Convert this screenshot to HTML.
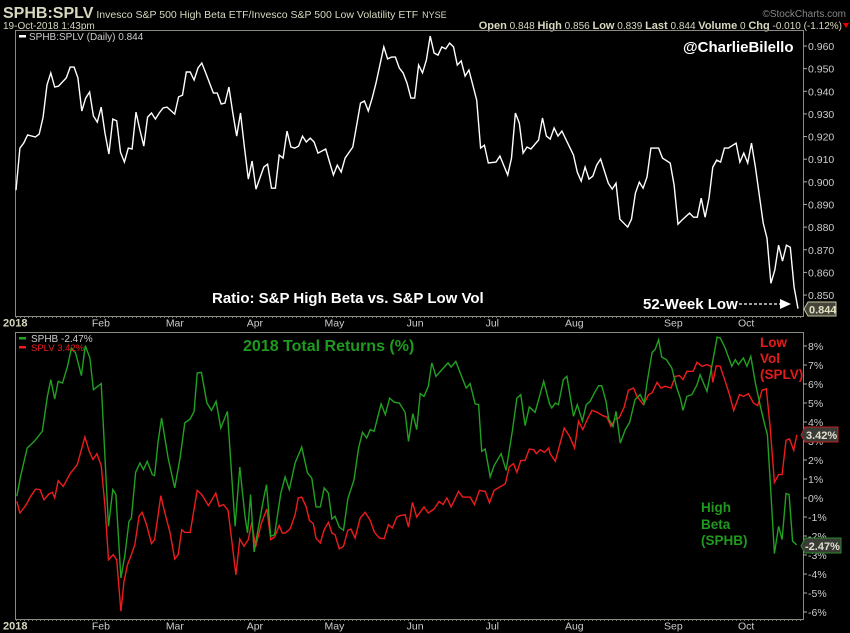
<!DOCTYPE html>
<html><head><meta charset="utf-8"><style>
html,body{margin:0;padding:0;background:#000;}
svg{display:block;font-family:"Liberation Sans",sans-serif;}
</style></head><body>
<svg id="chart" width="850" height="633" viewBox="0 0 850 633" xmlns="http://www.w3.org/2000/svg">
<rect x="0" y="0" width="850" height="633" fill="#000"/>
<g>
<text x="3" y="18" font-size="16" font-weight="bold" fill="#d8d8c0">SPHB:SPLV<tspan font-size="10.5" font-weight="normal" dx="3">Invesco S&amp;P 500 High Beta ETF/Invesco S&amp;P 500 Low Volatility ETF</tspan><tspan font-size="9" font-weight="normal" dx="4">NYSE</tspan></text>
<text x="3" y="29" font-size="10" fill="#d8d8c0">19-Oct-2018 1:43pm</text>
<text x="846" y="17" font-size="10" fill="#888" text-anchor="end">©StockCharts.com</text>
<text x="842" y="29" font-size="10" fill="#d8d8c0" text-anchor="end"><tspan font-weight="bold" font-size="11">Open</tspan> 0.848 <tspan font-weight="bold" font-size="11">High</tspan> 0.856 <tspan font-weight="bold" font-size="11">Low</tspan> 0.839 <tspan font-weight="bold" font-size="11">Last</tspan> 0.844 <tspan font-weight="bold" font-size="11">Volume</tspan> 0 <tspan font-weight="bold" font-size="11">Chg</tspan> -0.010 (-1.12%)</text>
<polygon points="843,23 849,23 846,28" fill="#e00"/>
</g>
<g id="topPanel"></g>
<g id="botPanel"></g>
<g id="monthAxis"></g>
</svg>
<script>
// ---- data ----
const ratioDays=[0,1,2,3,5,6,7,8,9,10,11,13,14,15,16,17,18,19,20,21,22,23,24,25,26,27,28,29,30,31,32,33,34,35,36,37,38,39,41,42,43,44,45,46,47,48,49,51,52,53,54,55,56,57,58,59,60,61,62,63,64,65,66,67,68,69,70,71,72,73,74,75,76,77,78,80,82,83,84,85,87,88,89,90,91,92,93,94,95,96,97,98,99,100,101,102,103,104,105,106,107,108,109,110,111,112,113,114,115,116,117,119,120,121,122,124,125,127,128,129,130,131,132,133,135,136,137,138,139,140,141,144,145,146,147,148,149,150,151,153,154,155,156,158,159,160,161,162,163,164,166,167,169,170,171,172,174,175,176,177,178,179,180,181,182,183,184,186,187,188,189,190,191,193,194,195,196,197,198,199,200,201,202];
const ratioVals=[0.8963,0.9149,0.9171,0.9207,0.9198,0.9211,0.9286,0.9428,0.9481,0.9419,0.9423,0.9459,0.9507,0.9507,0.9459,0.9313,0.9370,0.9397,0.9291,0.9264,0.9330,0.9215,0.9123,0.9277,0.9269,0.9131,0.9087,0.9149,0.9145,0.9308,0.9229,0.9158,0.9286,0.9304,0.9277,0.9304,0.9326,0.9330,0.9299,0.9375,0.9383,0.9485,0.9485,0.9450,0.9503,0.9525,0.9481,0.9392,0.9392,0.9344,0.9348,0.9419,0.9304,0.9202,0.9304,0.9154,0.9012,0.9092,0.8968,0.9017,0.9065,0.9078,0.8972,0.8972,0.9118,0.9105,0.9224,0.9154,0.9149,0.9158,0.9202,0.9176,0.9193,0.9176,0.9127,0.9145,0.9030,0.9074,0.9043,0.9105,0.9154,0.9251,0.9348,0.9357,0.9313,0.9370,0.9436,0.9516,0.9596,0.9543,0.9551,0.9551,0.9503,0.9481,0.9436,0.9370,0.9370,0.9516,0.9481,0.9538,0.9644,0.9569,0.9560,0.9596,0.9587,0.9613,0.9596,0.9516,0.9534,0.9467,0.9494,0.9361,0.9149,0.9162,0.9083,0.9087,0.9114,0.9030,0.9105,0.9304,0.9260,0.9127,0.9154,0.9145,0.9185,0.9282,0.9202,0.9189,0.9238,0.9202,0.9224,0.9118,0.9043,0.9003,0.9065,0.9012,0.9025,0.9074,0.9101,0.8994,0.8968,0.8994,0.8835,0.8800,0.8835,0.8950,0.8999,0.8972,0.9021,0.9149,0.9149,0.9105,0.9083,0.8986,0.8813,0.8831,0.8862,0.8844,0.8844,0.8928,0.8844,0.8928,0.9065,0.9096,0.9087,0.9149,0.9149,0.9171,0.9087,0.9127,0.9083,0.9171,0.9065,0.8818,0.8751,0.8552,0.8610,0.8720,0.8650,0.8720,0.8711,0.8535,0.8440];
const sphbDays=[0.2,1.2,2.9,4.7,6.8,8.1,9.0,10.0,10.9,12.0,13.3,14.3,15.4,16.9,17.9,19.1,20.0,22.0,23.9,25.0,25.8,27.1,28.1,29.2,29.8,30.9,32.0,32.9,33.9,35.2,35.8,36.7,37.6,39.3,41.0,42.4,43.6,45.0,46.0,46.8,47.9,49.3,50.5,51.7,52.9,54.6,56.6,57.8,59.1,59.8,60.6,61.5,62.5,63.9,64.7,65.8,66.8,68.4,69.5,70.6,72.1,73.8,75.3,76.4,77.5,78.6,79.6,80.7,81.6,82.4,83.5,84.6,85.7,87.3,88.5,89.5,90.6,91.5,92.5,94.3,95.4,96.5,97.7,99.0,100.5,101.4,102.5,103.5,104.4,105.4,106.5,107.4,108.5,110.4,111.6,112.4,113.6,114.7,116.3,117.3,118.6,119.5,120.3,121.2,122.5,123.5,125.3,126.6,128.2,129.4,130.4,131.5,132.6,134.1,136.3,137.8,138.4,139.3,140.1,141.4,142.3,144.0,145.0,146.3,147.3,148.3,149.4,150.5,151.3,152.4,153.1,154.2,155.0,156.1,157.4,158.5,159.9,161.2,162.3,163.0,164.3,165.1,166.0,166.8,168.0,169.4,170.7,171.6,172.3,173.3,174.6,175.9,176.7,177.6,178.5,179.8,181.1,181.9,183.2,184.9,185.8,186.6,187.9,188.8,189.8,191.0,192.3,193.3,194.1,195.0,195.9,197.0,197.9,198.9,199.7,200.6,201.7];
const sphbVals=[0.09,1.14,2.63,2.98,3.51,5.35,6.23,5.21,6.14,6.05,6.93,7.89,7.63,6.44,8.02,7.37,5.70,6.02,-1.49,0.44,0.18,-4.21,-3.04,-1.23,-1.05,1.35,1.84,1.49,1.93,1.23,1.18,2.98,4.21,2.11,0.53,2.11,3.95,4.16,4.56,6.58,6.61,5.00,4.61,5.09,3.68,4.56,-1.49,1.63,-0.88,-1.84,0.18,-2.84,-1.67,-0.09,0.70,-2.02,-1.93,0.26,1.11,0.44,1.84,2.68,1.32,1.05,-0.47,-0.47,0.53,0.26,-1.11,-0.96,-1.53,-1.70,-0.05,0.96,2.63,3.46,3.16,3.60,3.51,4.95,4.39,5.26,5.04,5.00,4.51,2.98,4.44,3.60,5.49,5.35,5.88,7.11,6.40,6.84,7.11,6.89,7.19,6.61,5.79,6.02,4.96,4.91,2.46,2.58,1.11,1.70,2.33,1.46,3.51,5.26,5.44,3.81,4.79,4.51,6.14,4.96,4.74,5.00,4.91,6.23,6.40,4.30,4.91,4.04,4.91,5.09,5.53,5.91,5.91,5.09,4.16,3.77,4.56,2.89,3.60,3.98,5.17,5.44,5.00,6.05,7.67,7.81,8.33,7.42,7.28,6.84,5.79,5.26,4.61,5.35,5.44,5.96,6.49,6.05,5.61,7.02,8.47,8.42,7.89,6.93,7.28,7.02,7.37,6.93,7.46,6.05,4.82,3.95,3.33,0.26,-2.93,-1.49,-2.19,0.23,0.18,-2.28,-2.47];
const splvDays=[0.2,1.0,2.5,3.8,5.1,6.2,7.2,8.5,9.4,10.0,10.9,12.2,14.1,15.8,17.8,18.9,19.9,20.9,22.0,23.0,23.9,25.1,26.0,27.1,27.9,28.8,29.8,30.7,31.8,32.6,33.7,35.0,35.8,37.4,38.2,39.8,41.0,41.9,42.8,43.6,45.0,46.8,48.0,49.7,51.6,52.5,53.6,54.8,56.8,57.8,58.9,60.0,60.9,61.9,63.4,64.8,65.8,66.8,68.0,68.8,69.5,70.8,72.1,72.9,73.8,74.9,75.8,76.8,77.5,78.6,79.6,80.7,81.6,82.4,83.5,84.6,85.7,86.5,87.6,88.9,90.2,91.5,92.6,93.9,95.1,96.2,97.2,98.4,99.2,100.5,101.4,102.4,103.5,105.4,106.5,108.0,109.3,110.3,111.3,112.4,114.3,115.4,117.3,118.4,119.7,121.2,122.3,123.5,124.6,126.4,127.4,128.5,129.4,130.4,131.5,132.6,133.7,134.4,135.4,136.5,137.6,138.0,139.3,141.6,143.0,144.3,145.3,146.4,147.6,148.8,150.1,151.6,152.6,153.7,154.8,155.8,157.1,158.2,159.5,160.4,162.1,163.4,164.3,165.6,166.6,167.7,169.2,170.3,171.4,172.3,173.3,174.9,175.9,177.2,178.5,179.5,180.0,180.9,181.9,183.2,184.3,185.4,186.9,187.9,189.2,190.5,191.6,192.7,193.8,194.8,195.9,197.0,197.9,198.9,199.8,200.9,201.7];
const splvVals=[-0.18,-0.79,-0.40,0.09,0.47,0.44,-0.09,0.21,0.30,0.00,0.91,0.61,1.32,1.75,3.21,2.46,2.02,2.33,1.70,-0.44,-3.25,-2.98,-3.25,-5.96,-4.39,-3.51,-2.98,-2.46,-0.96,-0.75,-1.40,-2.40,-2.19,0.12,-0.58,-1.84,-3.21,-2.98,-1.67,-1.81,-1.81,0.40,0.18,-0.40,0.26,-0.44,-0.35,-0.65,-4.04,-2.16,-2.54,-2.19,-1.28,-2.58,-1.32,-0.58,-2.19,-2.05,-1.44,-1.84,-1.84,-1.63,-0.88,0.00,0.05,-0.44,-1.18,-1.35,-2.11,-2.37,-1.67,-1.28,-1.84,-1.93,-2.68,-2.54,-1.70,-1.63,-2.11,-1.05,-0.75,-1.18,-1.81,-2.11,-2.14,-1.40,-1.58,-1.00,-0.93,-0.88,-1.53,-0.23,-1.00,-0.47,-0.79,-0.58,-0.18,-0.35,0.00,-0.47,0.35,0.05,0.05,-0.35,0.40,0.35,-0.26,0.40,0.53,0.75,1.63,1.81,1.35,1.98,1.98,2.58,2.54,2.33,2.54,2.40,2.63,2.33,1.93,3.68,3.25,2.63,4.04,3.60,4.16,4.61,4.51,4.33,4.26,3.77,4.16,4.21,4.79,5.67,5.79,5.35,4.91,5.44,5.53,6.09,5.79,5.88,5.79,6.40,6.44,6.23,6.67,6.67,7.14,6.93,7.02,6.93,6.09,6.96,6.93,6.14,5.44,4.61,5.44,5.35,5.49,5.00,4.86,5.67,5.75,3.77,0.82,1.23,1.23,3.04,3.11,2.51,3.33,3.42];
const ratioTicks=[0.960,0.950,0.940,0.930,0.920,0.910,0.900,0.890,0.880,0.870,0.860,0.850];
const pctTicks=[8,7,6,5,4,3,2,1,0,-1,-2,-3,-4,-5,-6];
const monthLabels=["Feb","Mar","Apr","May","Jun","Jul","Aug","Sep","Oct"];
const monthDays=[19.6,38.7,59.6,79.7,100.9,121.3,141.8,167.4,186.5];

// ---- scales ----
const NS="http://www.w3.org/2000/svg";
const X0=16,X1=798,D1=202;
function xs(d){return X0+d*(X1-X0)/D1;}
function yTop(v){return 46+(0.960-v)/0.010*22.64;}
function yBot(p){return 498-p*19;}
function mk(tag,attrs,parent,txt){const e=document.createElementNS(NS,tag);for(const k in attrs)e.setAttribute(k,attrs[k]);if(txt!==undefined)e.textContent=txt;parent.appendChild(e);return e;}
const topG=document.getElementById('topPanel'),botG=document.getElementById('botPanel'),monG=document.getElementById('monthAxis');

// top panel frame
let f=mk('rect',{x:15.5,y:30.5,width:788,height:286,fill:'none',stroke:'#8a8a80','stroke-width':1},topG);


ratioTicks.forEach(v=>{const y=yTop(v);
 let t=mk('line',{x1:803,x2:807,y1:y,y2:y,stroke:'#aaa'},topG);
 
 
 let l=mk('text',{x:808,y:y+4,'font-size':10.5,fill:'#ccc'},topG,v.toFixed(3));
 
 
});
let p=mk('path',{d:ratioDays.map((d,i)=>(i?'L':'M')+xs(d).toFixed(1)+','+yTop(ratioVals[i]).toFixed(1)).join(''),fill:'none',stroke:'#fff','stroke-width':1.4},topG);


let e;
e=mk('rect',{x:19,y:35,width:7,height:2.5,fill:'#fff'},topG);


e=mk('text',{x:29,y:40,'font-size':10,fill:'#ccc'},topG,'SPHB:SPLV (Daily) 0.844');


e=mk('text',{x:683,y:52,'font-size':15,'font-weight':'bold',fill:'#fff'},topG,'@CharlieBilello');


e=mk('text',{x:212,y:303,'font-size':15,'font-weight':'bold',fill:'#fff'},topG,'Ratio: S&P High Beta vs. S&P Low Vol');


e=mk('text',{x:643,y:309,'font-size':15,'font-weight':'bold',fill:'#fff'},topG,'52-Week Low');


e=mk('line',{x1:739,x2:780,y1:304,y2:304,stroke:'#fff','stroke-dasharray':'3,2','stroke-width':1.3},topG);


e=mk('polygon',{points:'780,299 791,304 780,309',fill:'#fff'},topG);


e=mk('polygon',{points:'804,309 808,302 836,302 836,316 808,316',fill:'#44443a',stroke:'#c8c8a0'},topG);


e=mk('text',{x:809,y:313.5,'font-size':11,'font-weight':'bold',fill:'#e0e0c0'},topG,'0.844');



// bottom panel
f=mk('rect',{x:15.5,y:332.5,width:788,height:287,fill:'none',stroke:'#8a8a80','stroke-width':1},botG);


pctTicks.forEach(v=>{const y=yBot(v);
 let t=mk('line',{x1:803,x2:807,y1:y,y2:y,stroke:'#aaa'},botG);
 
 
 let l=mk('text',{x:808,y:y+4,'font-size':10.5,fill:'#ccc'},botG,v+'%');
 
 
});
p=mk('path',{d:splvDays.map((d,i)=>(i?'L':'M')+xs(d).toFixed(1)+','+yBot(splvVals[i]).toFixed(1)).join(''),fill:'none',stroke:'#ee1c1c','stroke-width':1.4},botG);


p=mk('path',{d:sphbDays.map((d,i)=>(i?'L':'M')+xs(d).toFixed(1)+','+yBot(sphbVals[i]).toFixed(1)).join(''),fill:'none',stroke:'#22a022','stroke-width':1.4},botG);


e=mk('rect',{x:19,y:337,width:7,height:2.5,fill:'#22a022'},botG);


e=mk('text',{x:31,y:342,'font-size':10,fill:'#ccc'},botG,'SPHB -2.47%');


e=mk('rect',{x:19,y:346,width:7,height:2.5,fill:'#ee1c1c'},botG);


e=mk('text',{x:31,y:351,'font-size':9.5,fill:'#ee1c1c'},botG,'SPLV 3.42%');


e=mk('text',{x:243,y:351,'font-size':16,'font-weight':'bold',fill:'#1f9a1f'},botG,'2018 Total Returns (%)');


[['Low',347],['Vol',363],['(SPLV)',379]].forEach(a=>{
 let t=mk('text',{x:760,y:a[1],'font-size':13.5,'font-weight':'bold',fill:'#e51b1b'},botG,a[0]);
 
 
});
[['High',512],['Beta',529],['(SPHB)',545]].forEach(a=>{
 let t=mk('text',{x:701,y:a[1],'font-size':13.5,'font-weight':'bold',fill:'#1f9a1f'},botG,a[0]);
 
 
});
e=mk('polygon',{points:'801,435 805,427 838,427 838,442 805,442',fill:'#3a3a36',stroke:'#c02020'},botG);


e=mk('text',{x:806,y:439,'font-size':11,'font-weight':'bold',fill:'#e0e0d0'},botG,'3.42%');


e=mk('polygon',{points:'801,546 805,538 841,538 841,553 805,553',fill:'#3a3a36',stroke:'#2a8a2a'},botG);


e=mk('text',{x:805,y:550,'font-size':11,'font-weight':'bold',fill:'#e0e0d0'},botG,'-2.47%');



// month axes
[316,619].forEach((yb,k)=>{
 let d=mk('line',{x1:16,x2:803,y1:yb+1.5,y2:yb+1.5,stroke:'#777','stroke-dasharray':'1,3'},monG);
 
 
 let y=yb+10.5;
 let t=mk('text',{x:3,y:y,'font-size':11,'font-weight':'bold',fill:'#d8d8c0'},monG,'2018');
 
 
 monthLabels.forEach((m,i)=>{
  let l=mk('text',{x:xs(monthDays[i]),y:y,'font-size':10.5,fill:'#ccc'},monG,m);
  
  
 });
});
</script>
</body></html>
